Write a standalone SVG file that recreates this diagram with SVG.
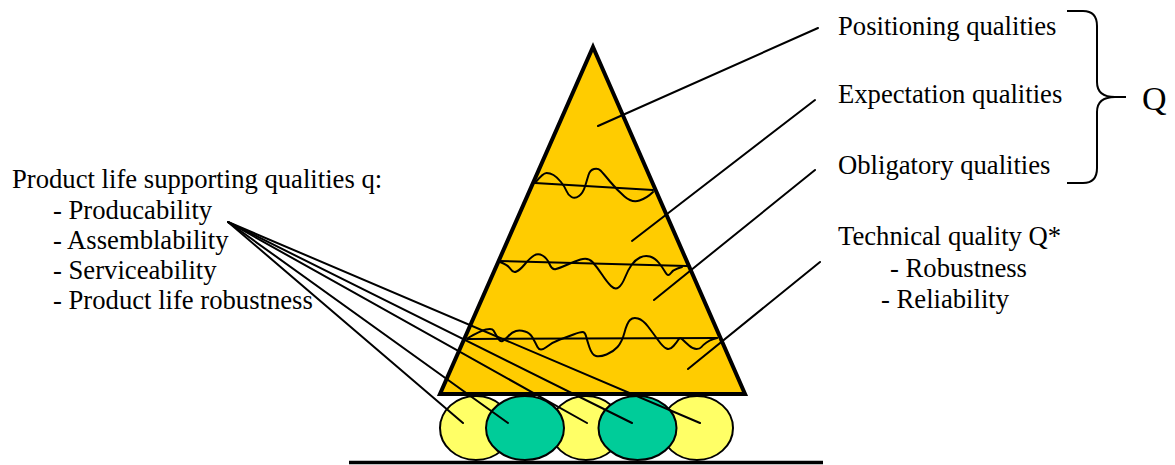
<svg xmlns="http://www.w3.org/2000/svg" width="1175" height="465" viewBox="0 0 1175 465">
<style>
.t{font-family:"Liberation Serif","Times New Roman",serif;font-size:26.67px;fill:#000}
.ln{stroke:#000;stroke-width:2;fill:none;stroke-linecap:round}
.wv{stroke:#000;stroke-width:2;fill:none;stroke-linejoin:round;stroke-linecap:round}
.yel{fill:#FFFF66;stroke:#000;stroke-width:2}
.grn{fill:#00CC99;stroke:#000;stroke-width:2}
</style>
<rect width="1175" height="465" fill="#fff"/>
<g id="ground"><line x1="349" y1="462.5" x2="823" y2="462.5" stroke="#000" stroke-width="3.5"/></g>
<g id="rollers">
<ellipse class="yel" cx="476" cy="428" rx="36" ry="32"/>
<ellipse class="yel" cx="586" cy="428" rx="36" ry="32"/>
<ellipse class="yel" cx="697" cy="428" rx="36" ry="32"/>
<ellipse class="grn" cx="525" cy="428" rx="39" ry="32"/>
<ellipse class="grn" cx="637.5" cy="428" rx="39" ry="32"/>
</g>
<g id="pyramid">
<polygon points="593,47 745,394 440,394" fill="#FFCC00" stroke="#000" stroke-width="4" stroke-linejoin="miter"/>
<line class="ln" x1="535" y1="183" x2="653" y2="190"/>
<line class="ln" x1="500" y1="261" x2="687" y2="266"/>
<line class="ln" x1="467" y1="339" x2="717" y2="338"/>
<path class="wv" d="M535,183 Q543,173 546.5,173 Q550,173 553.5,175 Q557,177 561,182 Q565,187 566.5,191 Q568,195 571.5,197 Q575,199 579,196 Q583,193 585,186.5 Q587,180 588.5,175 Q590,170 594,169 Q598,168 600.5,170.5 Q603,173 610,181.5 Q617,190 624.5,196.5 Q632,203 639.5,200.5 Q647,198 653,192"/>
<path class="wv" d="M500,262 Q508,265 510.5,269 Q513,273 516.5,271.5 Q520,270 525,264 Q530,258 534,255.5 Q538,253 542.5,255.5 Q547,258 549.5,264 Q552,270 556,269 Q560,268 566.5,265 Q573,262 580.5,259.5 Q588,257 592.5,262 Q597,267 602,274.5 Q607,282 611,286 Q615,290 618.5,287.5 Q622,285 625,277.5 Q628,270 631.5,265 Q635,260 640,257.5 Q645,255 650,256.5 Q655,258 659,263 Q663,268 665.5,272.5 Q668,277 670.5,273.5 Q673,270 677.5,268.5 L682,267"/>
<path class="wv" d="M468,338 Q480,331 486,329.5 Q492,328 493.5,330.5 Q495,333 497.5,337.5 Q500,342 502.5,341 Q505,340 508.5,336 Q512,332 516,331 Q520,330 525,331.5 Q530,333 532.5,337.5 Q535,342 537.5,347 Q540,352 546.5,347 Q553,342 560,339.5 Q567,337 573.5,334.5 Q580,332 582.5,332 Q585,332 586,336 Q587,340 589.5,347.5 Q592,355 596,356 Q600,357 606.5,354.5 Q613,352 617.5,347 Q622,342 624.5,332.5 Q627,323 630,320 Q633,317 638,318.5 Q643,320 648,326.5 Q653,333 658,340 Q663,347 666.5,348.5 Q670,350 673.5,346 Q677,342 678.5,339.5 Q680,337 682.5,339.5 Q685,342 689,345.5 Q693,349 696.5,349 Q700,349 701.5,347 Q703,345 706.5,342.5 Q710,340 713.5,339 L717,338"/>
</g>
<g id="connectors">
<line class="ln" x1="598" y1="126" x2="818" y2="28"/>
<line class="ln" x1="632" y1="241" x2="815" y2="100"/>
<line class="ln" x1="654" y1="300" x2="815" y2="170"/>
<line class="ln" x1="688" y1="369" x2="820" y2="262"/>
<line class="ln" x1="228" y1="222" x2="463" y2="423"/>
<line class="ln" x1="228" y1="222" x2="508" y2="423"/>
<line class="ln" x1="228" y1="222" x2="587" y2="423"/>
<line class="ln" x1="228" y1="222" x2="632" y2="423"/>
<line class="ln" x1="228" y1="222" x2="700" y2="423"/>
</g>
<g id="label-positioning"><text class="t" x="838" y="35">Positioning qualities</text></g>
<g id="label-expectation"><text class="t" x="838" y="103">Expectation qualities</text></g>
<g id="label-obligatory"><text class="t" x="838" y="174">Obligatory qualities</text></g>
<g id="brace-Q">
<path d="M1067,11 L1083,11 Q1097,11 1097,26 L1097,82 Q1097,97 1115,97 L1126,97 M1115,97 Q1097,97 1097,112 L1097,168 Q1097,183 1083,183 L1067,183" fill="none" stroke="#000" stroke-width="2"/>
<text x="1142" y="110" style="font-family:'Liberation Serif','Times New Roman',serif;font-size:34px">Q</text>
</g>
<g id="label-technical">
<text class="t" x="838" y="245">Technical quality Q*</text>
<text class="t" x="890" y="277">- Robustness</text>
<text class="t" x="881" y="308">- Reliability</text>
</g>
<g id="label-productlife">
<text class="t" x="12" y="188">Product life supporting qualities q:</text>
<text class="t" x="53" y="219">- Producability</text>
<text class="t" x="53" y="249">- Assemblability</text>
<text class="t" x="53" y="279">- Serviceability</text>
<text class="t" x="53" y="309">- Product life robustness</text>
</g>
</svg>
